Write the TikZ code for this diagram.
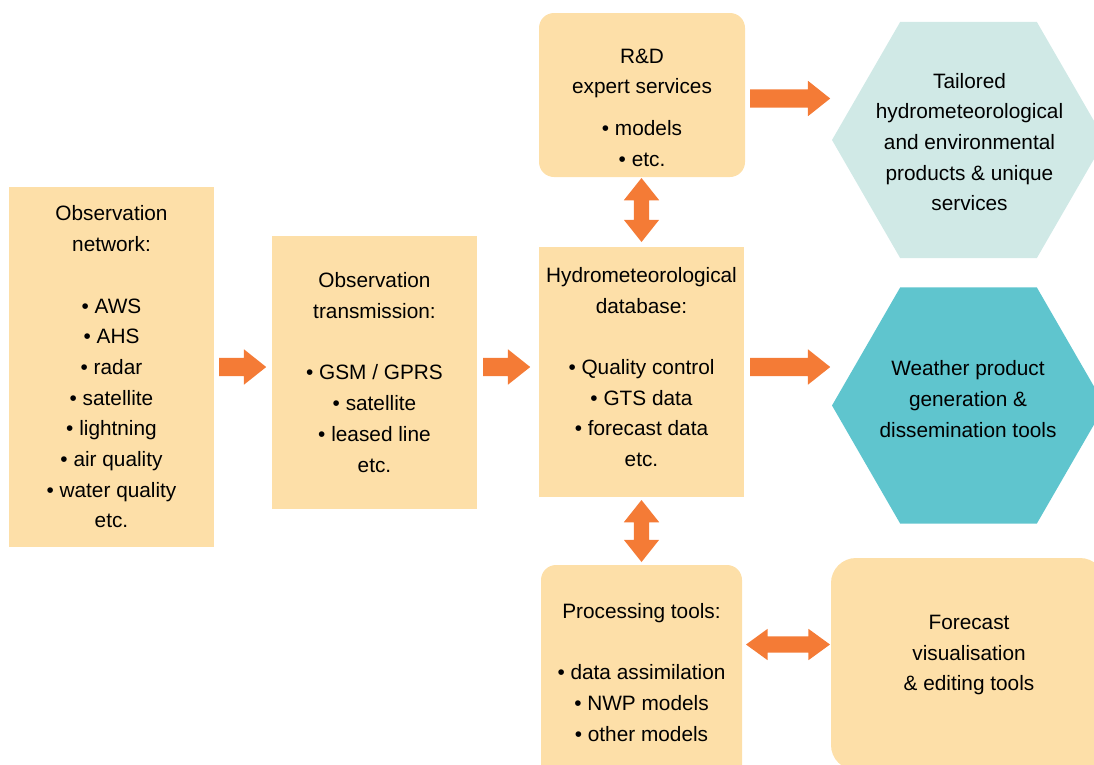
\documentclass[tikz,border=0pt]{standalone}
\usepackage{fontspec}
\setmainfont{Liberation Sans}
\usepackage{tikz}
\usetikzlibrary{shapes.geometric,shapes.arrows,positioning}
\definecolor{boxfill}{HTML}{FDDFA8}
\definecolor{hexlight}{HTML}{D0E9E6}
\definecolor{hexdark}{HTML}{5FC5CE}
\definecolor{arrowfill}{HTML}{F47B36}
\newcommand\flowfont{\fontsize{20.8pt}{30.7pt}\selectfont}

\begin{document}
\begin{tikzpicture}[x=1pt,y=-1pt,
  box/.style={fill=boxfill,align=center,inner sep=0pt,font=\flowfont},
  rbox/.style={box,rounded corners=15pt},
  txt/.style={align=center,inner sep=0pt,font=\flowfont},
  hexa/.style={regular polygon,regular polygon sides=6,minimum size=273pt,inner sep=0pt},
  harrow/.style={single arrow,fill=arrowfill,inner sep=9pt,single arrow head extend=8.5pt,single arrow tip angle=77,anchor=tail},
  darrow/.style={double arrow,fill=arrowfill,inner sep=7.5pt,double arrow head extend=10pt,double arrow tip angle=77}]

\useasboundingbox (0,0) rectangle (1094,764);

% boxes
\node [box,minimum width=205pt,minimum height=360pt] (obs) at (111.5,367)
  {Observation\\network:\\[30.7pt]• AWS\\• AHS\\• radar\\• satellite\\• lightning\\• air quality\\• water quality\\etc.};
\node [box,minimum width=205pt,minimum height=273pt] (trans) at (374.5,372.5)
  {Observation\\transmission:\\[30.7pt]• GSM / GPRS\\• satellite\\• leased line\\etc.};
\node [box,minimum width=205pt,minimum height=250pt] (db) at (641.5,372) {};
\node [txt] (dbtext) at (641.5,367) {Hydrometeorological\\database:\\[30.7pt]• Quality control\\• GTS data\\• forecast data\\etc.};
\node [rbox,minimum width=206pt,minimum height=164pt] (rd) at (642,95) {};
\node [txt] (rdtext) at (642,107.5) {R\&D\\expert services\\[11pt]• models\\• etc.};
\node [rbox,minimum width=201pt,minimum height=215pt] (proc) at (641.5,672.5)
  {Processing tools:\\[30.7pt]• data assimilation\\• NWP models\\• other models};
\node [box,rounded corners=25pt,minimum width=274pt,minimum height=212pt] (fcst) at (968,664) {};
\node [txt] (fcsttext) at (969,655) {Forecast\\visualisation\\\& editing tools};

% hexagons
\node [hexa,fill=hexlight] (tailored) at (968.5,140) {};
\node [txt] (tailoredtext) at (969.5,142)
  {Tailored\\hydrometeorological\\and environmental\\products \& unique\\services};
\node [hexa,fill=hexdark] (weather) at (968.5,405.5) {};
\node [txt] (weathertext) at (968,399)
  {Weather product\\generation \&\\dissemination tools};

% block arrows
\node [harrow,minimum height=47pt] (a1) at (219,367) {};
\node [harrow,minimum height=47pt] (a2) at (483,367) {};
\node [harrow,minimum height=80pt] (a3) at (750,367) {};
\node [harrow,minimum height=80pt] (a4) at (750,98.5) {};
\node [darrow,shape border rotate=90,minimum height=64pt] (d1) at (641.5,210) {};
\node [darrow,shape border rotate=90,minimum height=62pt] (d2) at (641.5,531) {};
\node [darrow,inner sep=8pt,double arrow head extend=7.5pt,double arrow tip angle=72,minimum height=84pt] (d3) at (788,644.5) {};
\end{tikzpicture}
\end{document}
